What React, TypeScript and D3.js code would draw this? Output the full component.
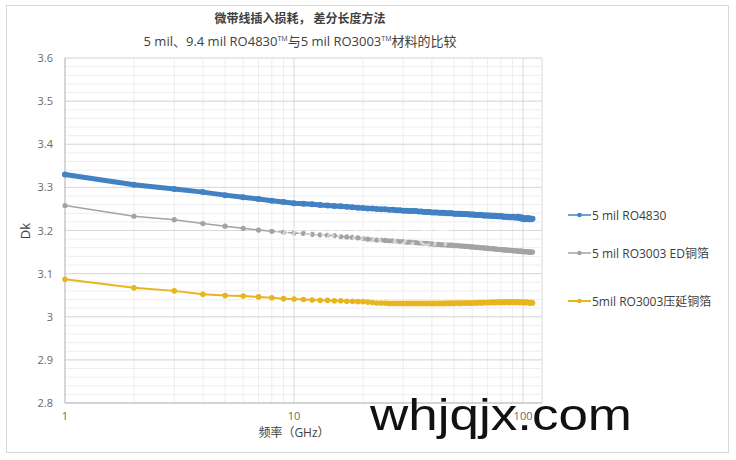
import React from "react";
import * as d3 from "d3";

const title1 = "微带线插入损耗， 差分长度方法";
const yTicks = [2.8, 2.9, 3.0, 3.1, 3.2, 3.3, 3.4, 3.5, 3.6];
const yTickLabels = ["2.8", "2.9", "3", "3.1", "3.2", "3.3", "3.4", "3.5", "3.6"];
const xTicks = [1, 10, 100];
const xTickLabels = ["1", "10", "100"];
const seriesNames = ["5 mil RO4830", "5 mil RO3003 ED铜箔", "5mil RO3003压延铜箔"];
const seriesColors = ["#4281c3", "#a3a3a3", "#e8b51e"];

// frequencies 1..110 GHz
const freqs: number[] = d3.range(1, 111);

const ro4830: number[] = [
  3.330, 3.306, 3.296, 3.289, 3.282, 3.277, 3.273, 3.269, 3.266, 3.263,
  3.262, 3.261, 3.259, 3.258, 3.257, 3.256, 3.255, 3.254, 3.253, 3.252,
  3.251, 3.251, 3.250, 3.249, 3.249, 3.248, 3.248, 3.247, 3.247, 3.246,
  3.246, 3.245, 3.245, 3.245, 3.244, 3.244, 3.243, 3.243, 3.243, 3.242,
  3.242, 3.242, 3.241, 3.241, 3.241, 3.240, 3.240, 3.240, 3.240, 3.239,
  3.239, 3.239, 3.239, 3.238, 3.238, 3.238, 3.238, 3.237, 3.237, 3.237,
  3.237, 3.236, 3.236, 3.236, 3.236, 3.236, 3.235, 3.235, 3.235, 3.235,
  3.235, 3.234, 3.234, 3.234, 3.234, 3.234, 3.233, 3.233, 3.233, 3.233,
  3.233, 3.232, 3.232, 3.232, 3.232, 3.232, 3.231, 3.231, 3.231, 3.232,
  3.231, 3.230, 3.231, 3.230, 3.232, 3.229, 3.231, 3.228, 3.230, 3.227,
  3.229, 3.226, 3.228, 3.227, 3.229, 3.226, 3.228, 3.226, 3.227, 3.227,
];

const ro3003ED: number[] = [
  3.258, 3.233, 3.225, 3.216, 3.210, 3.205, 3.201, 3.198, 3.196, 3.194,
  3.193, 3.191, 3.190, 3.189, 3.188, 3.186, 3.185, 3.184, 3.183, 3.181,
  3.180, 3.179, 3.178, 3.178, 3.177, 3.176, 3.176, 3.175, 3.174, 3.174,
  3.173, 3.173, 3.172, 3.172, 3.171, 3.171, 3.170, 3.170, 3.169, 3.169,
  3.168, 3.168, 3.168, 3.167, 3.167, 3.167, 3.166, 3.166, 3.166, 3.165,
  3.165, 3.165, 3.164, 3.164, 3.164, 3.163, 3.163, 3.163, 3.162, 3.162,
  3.162, 3.161, 3.161, 3.161, 3.160, 3.160, 3.160, 3.159, 3.159, 3.159,
  3.158, 3.158, 3.158, 3.158, 3.157, 3.157, 3.157, 3.156, 3.156, 3.156,
  3.156, 3.155, 3.155, 3.155, 3.155, 3.154, 3.154, 3.154, 3.154, 3.153,
  3.153, 3.153, 3.153, 3.153, 3.152, 3.152, 3.152, 3.152, 3.152, 3.151,
  3.151, 3.151, 3.151, 3.151, 3.151, 3.150, 3.150, 3.150, 3.150, 3.150,
];

const ro3003Rolled: number[] = [
  3.087, 3.067, 3.060, 3.052, 3.049, 3.048, 3.046, 3.044, 3.042, 3.041,
  3.040, 3.039, 3.038, 3.038, 3.037, 3.037, 3.036, 3.036, 3.035, 3.035,
  3.034, 3.033, 3.032, 3.032, 3.032, 3.031, 3.031, 3.031, 3.031, 3.031,
  3.031, 3.031, 3.031, 3.031, 3.031, 3.031, 3.031, 3.031, 3.031, 3.031,
  3.031, 3.031, 3.031, 3.031, 3.031, 3.031, 3.032, 3.031, 3.032, 3.031,
  3.032, 3.032, 3.031, 3.032, 3.032, 3.032, 3.032, 3.032, 3.032, 3.032,
  3.032, 3.033, 3.032, 3.033, 3.033, 3.032, 3.033, 3.033, 3.033, 3.033,
  3.033, 3.033, 3.034, 3.033, 3.033, 3.034, 3.033, 3.034, 3.034, 3.033,
  3.034, 3.034, 3.033, 3.034, 3.034, 3.034, 3.033, 3.034, 3.034, 3.034,
  3.034, 3.033, 3.034, 3.034, 3.033, 3.034, 3.033, 3.034, 3.033, 3.034,
  3.033, 3.033, 3.033, 3.034, 3.033, 3.033, 3.032, 3.033, 3.033, 3.032,
];

export default function App() {
  const W = 736;
  const H = 460;
  const left = 65, right = 542, top = 58, bottom = 403;
  const x = d3.scaleLog().domain([1, 121]).range([left, right]);
  const y = d3.scaleLinear().domain([2.8, 3.6]).range([bottom, top]);

  const minorX: number[] = [];
  for (const dec of [1, 10, 100]) {
    for (let k = 2; k <= 9; k++) {
      const v = dec * k;
      if (v < 121) minorX.push(v);
    }
  }
  const minorY = d3.range(0, 41).map((i) => 2.8 + i * 0.02);

  const line = d3
    .line<number>()
    .x((_, i) => x(freqs[i]))
    .y((d) => y(d))
    .curve(d3.curveLinear);

  const legendY = [215, 253, 301];
  const font = "'Open Sans', 'Noto Sans CJK SC', sans-serif";

  return (
    <svg
      width={W}
      height={H}
      style={{ position: "absolute", left: 0, top: 0, background: "#fff" }}
      fontFamily={font}
    >
      <rect x={0} y={0} width={W} height={H} fill="#fff" />
      <rect x={6.5} y={5.5} width={722} height={447} fill="none" stroke="#d9d9d9" />

      {/* minor grid */}
      {minorY.map((v, i) => (
        <line key={"my" + i} x1={left} x2={right} y1={y(v)} y2={y(v)} stroke="#eeeeee" strokeWidth={1} />
      ))}
      {minorX.map((v) => (
        <line key={"mx" + v} x1={x(v)} x2={x(v)} y1={top} y2={bottom} stroke="#ededed" strokeWidth={1} />
      ))}
      {/* major grid */}
      {yTicks.map((v) => (
        <line key={"gy" + v} x1={left} x2={right} y1={y(v)} y2={y(v)} stroke="#d9d9d9" strokeWidth={1} />
      ))}
      {xTicks.map((v) => (
        <line key={"gx" + v} x1={x(v)} x2={x(v)} y1={top} y2={bottom} stroke="#d9d9d9" strokeWidth={1} />
      ))}
      <line x1={right} x2={right} y1={top} y2={bottom} stroke="#d9d9d9" />
      <line x1={left} x2={left} y1={top} y2={bottom} stroke="#bfbfbf" />
      <line x1={left} x2={right} y1={bottom} y2={bottom} stroke="#bfbfbf" />

      {/* y tick labels */}
      {yTicks.map((v, i) => (
        <text key={"yl" + v} x={53} y={y(v) + 4} textAnchor="end" fontSize={11} fill="#6a6a6a">
          {yTickLabels[i]}
        </text>
      ))}

      <text x={0} y={0} transform="translate(30,231) rotate(-90)" textAnchor="middle" fontSize={13} fill="#404040">
        Dk
      </text>
      <text x={294} y={437} textAnchor="middle" fontSize={12} fill="#404040">
        频率（GHz）
      </text>

      {/* titles */}
      <text x={300} y={23} textAnchor="middle" fontSize={12} fontWeight="bold" fill="#404040">
        {title1}
      </text>
      <text x={300} y={46} textAnchor="middle" fontSize={13} fill="#404040">
        <tspan>5 mil、9.4 mil RO4830</tspan>
        <tspan fontSize={7} dy={-5}>TM</tspan>
        <tspan dy={5}>与5 mil RO3003</tspan>
        <tspan fontSize={7} dy={-5}>TM</tspan>
        <tspan dy={5}>材料的比较</tspan>
      </text>

      {/* series */}
      <path d={line(ro4830) || ""} fill="none" stroke={seriesColors[0]} strokeWidth={5} strokeLinejoin="round" strokeLinecap="round" />
      {ro4830.map((v, i) => (
        <circle key={"b" + i} cx={x(freqs[i])} cy={y(v)} r={3} fill={seriesColors[0]} />
      ))}
      <path d={line(ro3003ED) || ""} fill="none" stroke={seriesColors[1]} strokeWidth={1.5} />
      {ro3003ED.map((v, i) => (
        <circle key={"g" + i} cx={x(freqs[i])} cy={y(v)} r={2.6} fill={seriesColors[1]} />
      ))}
      <path d={line(ro3003Rolled) || ""} fill="none" stroke={seriesColors[2]} strokeWidth={2} />
      {ro3003Rolled.map((v, i) => (
        <circle key={"y" + i} cx={x(freqs[i])} cy={y(v)} r={2.8} fill={seriesColors[2]} />
      ))}

      {/* faint watermark */}
      <text x={362} y={246} textAnchor="middle" fontSize={32} fill="#ffffff" opacity={0.55} fontStyle="italic">
        www.ipcb.cn
      </text>

      {/* legend */}
      {seriesNames.map((n, i) => (
        <g key={"lg" + i}>
          <line x1={568} x2={591} y1={legendY[i]} y2={legendY[i]} stroke={seriesColors[i]} strokeWidth={i === 2 ? 2 : 1.5} />
          <circle cx={579.5} cy={legendY[i]} r={2.3} fill={seriesColors[i]} />
          <text x={592} y={legendY[i] + 4.5} fontSize={12} fill="#404040">
            {n}
          </text>
        </g>
      ))}

      {/* big watermark */}
      <text x={370} y={430} fontSize={44} fill="#111" fontFamily="'Liberation Sans', Arial, sans-serif" textLength={262} lengthAdjust="spacingAndGlyphs">
        whjqjx.com
      </text>

      {/* x tick labels (drawn over the watermark, as in the reference) */}
      {xTicks.map((v, i) => (
        <text key={"xl" + v} x={x(v)} y={420} textAnchor="middle" fontSize={11} fill="#6a6a6a">
          {xTickLabels[i]}
        </text>
      ))}
    </svg>
  );
}
